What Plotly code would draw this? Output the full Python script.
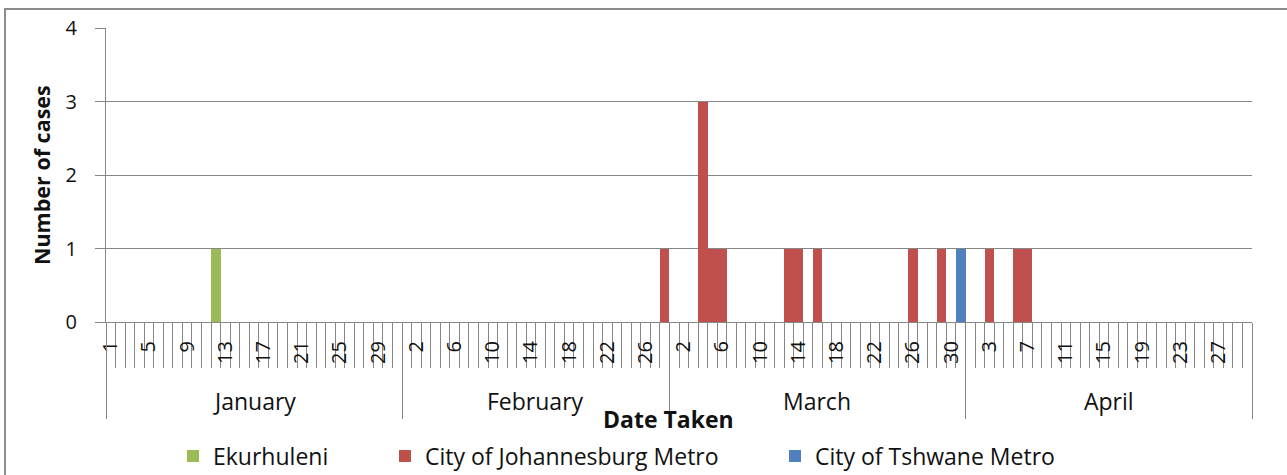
import plotly.graph_objects as go

# ---------------- data ----------------
months = ["January", "February", "March", "April"]
days_in_month = [31, 28, 31, 30]

ekurhuleni_dates = [("January", 12)]
ekurhuleni_cases = [1]

johannesburg_dates = [("February", 28), ("March", 4), ("March", 5), ("March", 6),
                      ("March", 13), ("March", 14), ("March", 16), ("March", 26),
                      ("March", 29), ("April", 3), ("April", 6), ("April", 7)]
johannesburg_cases = [1, 3, 1, 1, 1, 1, 1, 1, 1, 1, 1, 1]

tshwane_dates = [("March", 31)]
tshwane_cases = [1]

series_names = ["Ekurhuleni", "City of Johannesburg Metro", "City of Tshwane Metro"]
series_colors = ["#9BBB59", "#C0504D", "#4F81BD"]

label_every = 4
y_max = 4

# ---------------- build categories ----------------
categories = [(m, d) for m, n in zip(months, days_in_month) for d in range(1, n + 1)]
cat_index = {c: i for i, c in enumerate(categories)}
x_idx = list(range(len(categories)))
hover_labels = [f"{d} {m}" for m, d in categories]


def full_series(dates, cases):
    vals = [0] * len(categories)
    for dt, c in zip(dates, cases):
        vals[cat_index[dt]] = c
    return vals


all_series = [full_series(ekurhuleni_dates, ekurhuleni_cases),
              full_series(johannesburg_dates, johannesburg_cases),
              full_series(tshwane_dates, tshwane_cases)]

# month boundaries / centres in category-index units
starts = []
s = 0
for n in days_in_month:
    starts.append(s)
    s += n
boundaries = [st - 0.5 for st in starts] + [len(categories) - 0.5]
centres = [st + (n - 1) / 2 for st, n in zip(starts, days_in_month)]

tick_vals = x_idx[::label_every]
tick_text = [str(categories[i][1]) for i in tick_vals]

# ---------------- layout geometry (pixels) ----------------
W, H = 1287, 475
ML, MR, MT, MB = 106, 35, 28, 153
PW, PH = W - ML - MR, H - MT - MB
GRID = "#868686"
FONT = "Open Sans"
TXT = "#111111"


def pxx(px):
    return (px - ML) / PW


def pxy(py):
    return (H - MB - py) / PH


fig = go.Figure()
legend_ids = ["legend", "legend2", "legend3"]
for name, color, vals, lid in zip(series_names, series_colors, all_series, legend_ids):
    fig.add_trace(go.Bar(
        x=x_idx, y=vals, name=name, marker=dict(color=color, line=dict(width=0)),
        legend=lid, customdata=hover_labels, showlegend=True,
        hovertemplate="%{customdata}<br>" + name + ": %{y}<extra></extra>",
    ))

legend_common = dict(xref="container", yref="container", xanchor="left", yanchor="middle",
                     orientation="h", font=dict(family=FONT, size=23, color=TXT),
                     bgcolor="rgba(0,0,0,0)", borderwidth=0, itemwidth=30, visible=True)
leg_text_x = [213, 425, 815]
leg_y = 456
for lid, tx in zip(legend_ids, leg_text_x):
    fig.update_layout({lid: dict(legend_common, x=(tx - 40) / W, y=1 - leg_y / H)})

fig.update_layout(
    width=W, height=H, showlegend=True,
    margin=dict(l=ML, r=MR, t=MT, b=MB, autoexpand=False),
    paper_bgcolor="white", plot_bgcolor="white",
    barmode="stack", bargap=0,
    font=dict(family=FONT, color=TXT),
    xaxis=dict(
        range=[-0.5, len(categories) - 0.5], fixedrange=True,
        tickmode="array", tickvals=tick_vals, ticktext=tick_text,
        tickangle=-90, ticks="", ticklabelstandoff=10,
        tickfont=dict(family=FONT, size=20, color=TXT),
        showline=True, linecolor=GRID, linewidth=1,
        showgrid=False, zeroline=False,
        minor=dict(tickmode="linear", tick0=-0.5, dtick=1, ticks="outside",
                   ticklen=45, tickcolor=GRID, tickwidth=1, showgrid=False),
    ),
    xaxis2=dict(
        overlaying="x", anchor="y", side="bottom",
        range=[-0.5, len(categories) - 0.5], fixedrange=True,
        tickmode="array", tickvals=boundaries, ticks="outside", ticklen=96,
        tickcolor=GRID, tickwidth=1, showticklabels=False,
        showline=False, showgrid=False, zeroline=False,
    ),
    yaxis=dict(
        range=[0, y_max], fixedrange=True, dtick=1, tick0=0,
        ticks="outside", ticklen=10, tickcolor=GRID, tickwidth=1,
        ticklabelstandoff=14,
        tickfont=dict(family=FONT, size=20, color=TXT),
        showline=True, linecolor=GRID, linewidth=1,
        showgrid=True, gridcolor=GRID, gridwidth=1, zeroline=False,
    ),
)

# empty helper trace so the divider axis is instantiated
fig.add_trace(go.Scatter(x=[], y=[], xaxis="x2", yaxis="y", showlegend=False, hoverinfo="skip"))

annotations = []
for m, c in zip(months, centres):
    annotations.append(dict(x=c, xref="x", y=0, yref="paper", yshift=-(401 - (H - MB)),
                            text=m, showarrow=False, xanchor="center", yanchor="middle",
                            font=dict(family=FONT, size=23, color=TXT)))
annotations.append(dict(x=pxx(668), xref="paper", y=0, yref="paper", yshift=-(419 - (H - MB)),
                        text="<b>Date Taken</b>", showarrow=False, xanchor="center", yanchor="middle",
                        font=dict(family=FONT, size=23, color=TXT)))
annotations.append(dict(x=0, xref="paper", xshift=41 - ML, y=0.5, yref="paper",
                        text="<b>Number of cases</b>", textangle=-90, showarrow=False,
                        xanchor="center", yanchor="middle",
                        font=dict(family=FONT, size=21.5, color=TXT)))
fig.update_layout(annotations=annotations)

# chart-area border (cropped on the right and bottom in the reference)
fig.add_shape(type="rect", xref="paper", yref="paper",
              x0=pxx(5), y0=pxy(H + 20), x1=pxx(W + 20), y1=pxy(9),
              line=dict(color="#8C8C8C", width=2), fillcolor="rgba(0,0,0,0)", layer="below")

fig.write_html("out.html", config={"displayModeBar": False},
               post_script="document.body.style.margin='0';document.body.style.overflow='hidden';")
